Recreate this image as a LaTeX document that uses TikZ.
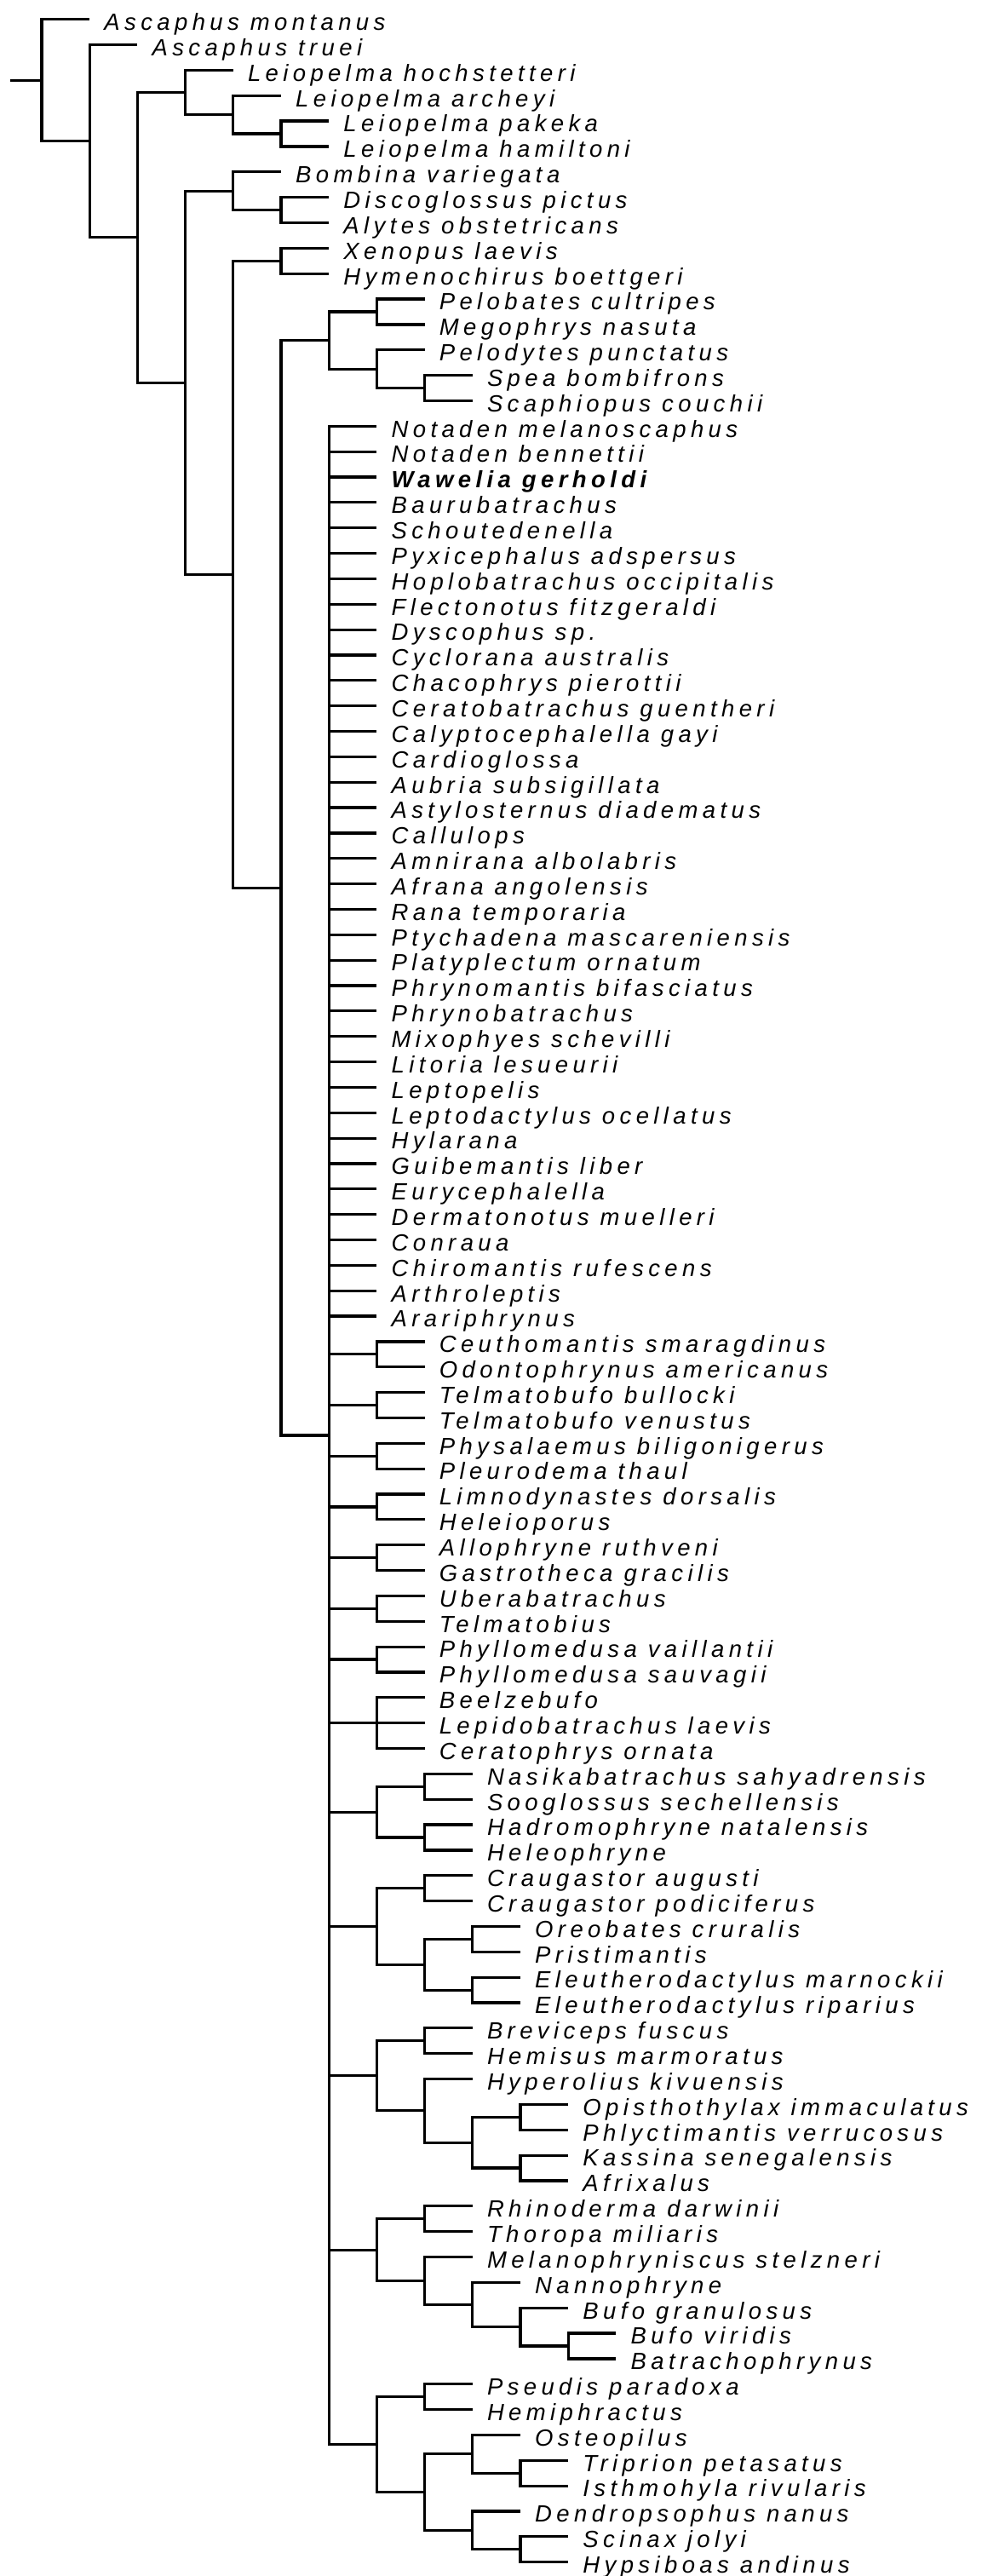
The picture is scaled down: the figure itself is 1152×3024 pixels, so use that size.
\documentclass[tikz,border=0pt]{standalone}
\usepackage{fontspec}
\usetikzlibrary{calc}
\newfontfamily\taxfont[LetterSpace=19.6]{Liberation Sans}
\tikzset{
  br/.style={line width=3.2pt, black},
  taxon/.style={anchor=base west, inner sep=0pt, font=\taxfont\fontsize{27.5}{30}\selectfont\itshape},
}
\newcommand\tip[3]{\coordinate (c#1) at (#2,{22.7+(#1-1)*29.85});
  \node[taxon] (n#1) at ($(c#1)+(17,12.8)$) {#3};}
\newcommand\cladenode[4]{\path let \p1=($(#3)!0.5!(#4)$) in coordinate (#1) at (#2pt,\y1);}
\newcommand\brto[2]{\draw[br] (#1) |- (#2);}
\newcommand\pair[4]{\cladenode{#1}{#2}{#3}{#4}\brto{#1}{#3}\brto{#1}{#4}}
\begin{document}
\begin{tikzpicture}[x=1pt,y=-1pt]
\useasboundingbox (0,0) rectangle (1152,3024);
% ---- tips ----
\tip{1}{105.2}{Ascaphus montanus}
\tip{2}{161.4}{Ascaphus truei}
\tip{3}{273.8}{Leiopelma hochstetteri}
\tip{4}{330}{Leiopelma archeyi}
\tip{5}{386.2}{Leiopelma pakeka}
\tip{6}{386.2}{Leiopelma hamiltoni}
\tip{7}{330}{Bombina variegata}
\tip{8}{386.2}{Discoglossus pictus}
\tip{9}{386.2}{Alytes obstetricans}
\tip{10}{386.2}{Xenopus laevis}
\tip{11}{386.2}{Hymenochirus boettgeri}
\tip{12}{498.6}{Pelobates cultripes}
\tip{13}{498.6}{Megophrys nasuta}
\tip{14}{498.6}{Pelodytes punctatus}
\tip{15}{554.8}{Spea bombifrons}
\tip{16}{554.8}{Scaphiopus couchii}
\tip{17}{442.4}{Notaden melanoscaphus}
\tip{18}{442.4}{Notaden bennettii}
\tip{19}{442.4}{\bfseries Wawelia gerholdi}
\tip{20}{442.4}{Baurubatrachus}
\tip{21}{442.4}{Schoutedenella}
\tip{22}{442.4}{Pyxicephalus adspersus}
\tip{23}{442.4}{Hoplobatrachus occipitalis}
\tip{24}{442.4}{Flectonotus fitzgeraldi}
\tip{25}{442.4}{Dyscophus sp.}
\tip{26}{442.4}{Cyclorana australis}
\tip{27}{442.4}{Chacophrys pierottii}
\tip{28}{442.4}{Ceratobatrachus guentheri}
\tip{29}{442.4}{Calyptocephalella gayi}
\tip{30}{442.4}{Cardioglossa}
\tip{31}{442.4}{Aubria subsigillata}
\tip{32}{442.4}{Astylosternus diadematus}
\tip{33}{442.4}{Callulops}
\tip{34}{442.4}{Amnirana albolabris}
\tip{35}{442.4}{Afrana angolensis}
\tip{36}{442.4}{Rana temporaria}
\tip{37}{442.4}{Ptychadena mascareniensis}
\tip{38}{442.4}{Platyplectum ornatum}
\tip{39}{442.4}{Phrynomantis bifasciatus}
\tip{40}{442.4}{Phrynobatrachus}
\tip{41}{442.4}{Mixophyes schevilli}
\tip{42}{442.4}{Litoria lesueurii}
\tip{43}{442.4}{Leptopelis}
\tip{44}{442.4}{Leptodactylus ocellatus}
\tip{45}{442.4}{Hylarana}
\tip{46}{442.4}{Guibemantis liber}
\tip{47}{442.4}{Eurycephalella}
\tip{48}{442.4}{Dermatonotus muelleri}
\tip{49}{442.4}{Conraua}
\tip{50}{442.4}{Chiromantis rufescens}
\tip{51}{442.4}{Arthroleptis}
\tip{52}{442.4}{Arariphrynus}
\tip{53}{498.6}{Ceuthomantis smaragdinus}
\tip{54}{498.6}{Odontophrynus americanus}
\tip{55}{498.6}{Telmatobufo bullocki}
\tip{56}{498.6}{Telmatobufo venustus}
\tip{57}{498.6}{Physalaemus biligonigerus}
\tip{58}{498.6}{Pleurodema thaul}
\tip{59}{498.6}{Limnodynastes dorsalis}
\tip{60}{498.6}{Heleioporus}
\tip{61}{498.6}{Allophryne ruthveni}
\tip{62}{498.6}{Gastrotheca gracilis}
\tip{63}{498.6}{Uberabatrachus}
\tip{64}{498.6}{Telmatobius}
\tip{65}{498.6}{Phyllomedusa vaillantii}
\tip{66}{498.6}{Phyllomedusa sauvagii}
\tip{67}{498.6}{Beelzebufo}
\tip{68}{498.6}{Lepidobatrachus laevis}
\tip{69}{498.6}{Ceratophrys ornata}
\tip{70}{554.8}{Nasikabatrachus sahyadrensis}
\tip{71}{554.8}{Sooglossus sechellensis}
\tip{72}{554.8}{Hadromophryne natalensis}
\tip{73}{554.8}{Heleophryne}
\tip{74}{554.8}{Craugastor augusti}
\tip{75}{554.8}{Craugastor podiciferus}
\tip{76}{611}{Oreobates cruralis}
\tip{77}{611}{Pristimantis}
\tip{78}{611}{Eleutherodactylus marnockii}
\tip{79}{611}{Eleutherodactylus riparius}
\tip{80}{554.8}{Breviceps fuscus}
\tip{81}{554.8}{Hemisus marmoratus}
\tip{82}{554.8}{Hyperolius kivuensis}
\tip{83}{667.2}{Opisthothylax immaculatus}
\tip{84}{667.2}{Phlyctimantis verrucosus}
\tip{85}{667.2}{Kassina senegalensis}
\tip{86}{667.2}{Afrixalus}
\tip{87}{554.8}{Rhinoderma darwinii}
\tip{88}{554.8}{Thoropa miliaris}
\tip{89}{554.8}{Melanophryniscus stelzneri}
\tip{90}{611}{Nannophryne}
\tip{91}{667.2}{Bufo granulosus}
\tip{92}{723.4}{Bufo viridis}
\tip{93}{723.4}{Batrachophrynus}
\tip{94}{554.8}{Pseudis paradoxa}
\tip{95}{554.8}{Hemiphractus}
\tip{96}{611}{Osteopilus}
\tip{97}{667.2}{Triprion petasatus}
\tip{98}{667.2}{Isthmohyla rivularis}
\tip{99}{611}{Dendropsophus nanus}
\tip{100}{667.2}{Scinax jolyi}
\tip{101}{667.2}{Hypsiboas andinus}
% ---- internal nodes ----
\pair{Leio3}{330}{c5}{c6}
\pair{Leio2}{273.8}{c4}{Leio3}
\pair{Leio}{217.6}{c3}{Leio2}
\pair{Disc}{330}{c8}{c9}
\pair{Bomb}{273.8}{c7}{Disc}
\pair{Xen}{330}{c10}{c11}
\pair{Pelob}{442.4}{c12}{c13}
\pair{Spea}{498.6}{c15}{c16}
\pair{Pelod}{442.4}{c14}{Spea}
\pair{Pelo}{386.2}{Pelob}{Pelod}
\pair{P53}{442.4}{c53}{c54}
\pair{P55}{442.4}{c55}{c56}
\pair{P57}{442.4}{c57}{c58}
\pair{P59}{442.4}{c59}{c60}
\pair{P61}{442.4}{c61}{c62}
\pair{P63}{442.4}{c63}{c64}
\pair{P65}{442.4}{c65}{c66}
\pair{Cer}{442.4}{c67}{c69}
\brto{Cer}{c68}
\pair{Nas}{498.6}{c70}{c71}
\pair{Had}{498.6}{c72}{c73}
\pair{NasHad}{442.4}{Nas}{Had}
\pair{Cra}{498.6}{c74}{c75}
\pair{Ore}{554.8}{c76}{c77}
\pair{Ele}{554.8}{c78}{c79}
\pair{OrEl}{498.6}{Ore}{Ele}
\pair{CraEl}{442.4}{Cra}{OrEl}
\pair{Bre}{498.6}{c80}{c81}
\pair{Opi}{611}{c83}{c84}
\pair{Kas}{611}{c85}{c86}
\pair{Sub}{554.8}{Opi}{Kas}
\pair{Hyp}{498.6}{c82}{Sub}
\pair{BreHyp}{442.4}{Bre}{Hyp}
\pair{Rhi}{498.6}{c87}{c88}
\pair{Bvi}{667.2}{c92}{c93}
\pair{Buf}{611}{c91}{Bvi}
\pair{Nan}{554.8}{c90}{Buf}
\pair{Mel}{498.6}{c89}{Nan}
\pair{RhMel}{442.4}{Rhi}{Mel}
\pair{Pse}{498.6}{c94}{c95}
\pair{Tri}{611}{c97}{c98}
\pair{Ost}{554.8}{c96}{Tri}
\pair{Sci}{611}{c100}{c101}
\pair{Den}{554.8}{c99}{Sci}
\pair{Hyl}{498.6}{Ost}{Den}
\pair{PsHyl}{442.4}{Pse}{Hyl}
\pair{Big}{386.2}{c17}{PsHyl}
\foreach \i in {18,...,52} {\brto{Big}{c\i}}
\foreach \n in {P53,P55,P57,P59,P61,P63,P65,Cer,NasHad,CraEl,BreHyp,RhMel} {\brto{Big}{\n}}
\pair{F}{330}{Pelo}{Big}
\pair{E}{273.8}{Xen}{F}
\pair{D}{217.6}{Bomb}{E}
\pair{C}{161.4}{Leio}{D}
\pair{B}{105.2}{c2}{C}
\pair{R}{49}{c1}{B}
\path let \p1=(R) in coordinate (r0) at (11.5pt,\y1);
\draw[br] (R) -- (r0);
\end{tikzpicture}
\end{document}
